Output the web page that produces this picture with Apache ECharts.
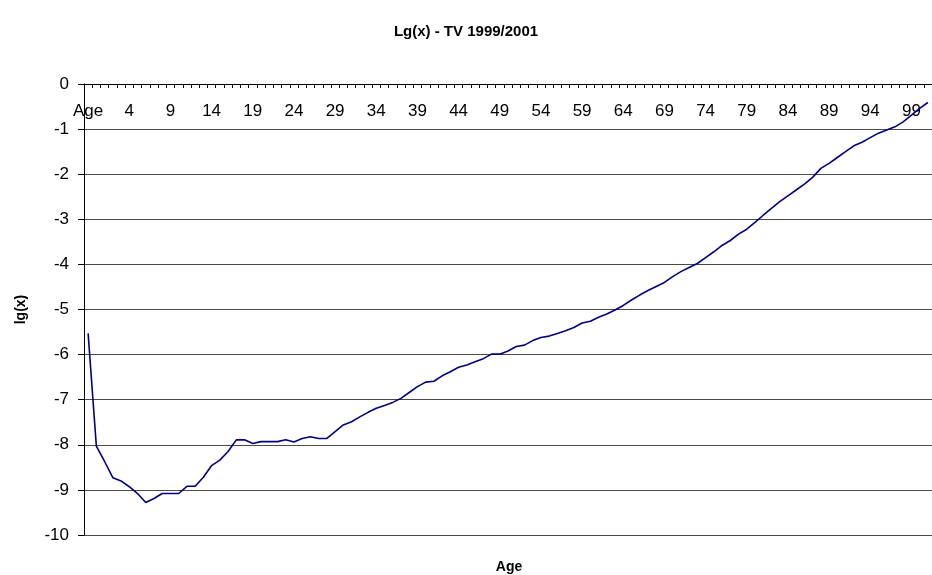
<!DOCTYPE html>
<html>
<head>
<meta charset="utf-8">
<title>Lg(x) - TV 1999/2001</title>
<script src="https://cdn.jsdelivr.net/npm/echarts@6/dist/echarts.min.js"></script>
<style>
  html, body { margin: 0; padding: 0; background: #fff; }
  #main { width: 932px; height: 575px; }
</style>
</head>
<body>
<div id="main"></div>
<script>
  // categories: the header cell "Age" followed by the ages 0..101
  var firstAge = 0;
  var lastAge = 101;
  var ages = ['Age'];
  for (var a = firstAge; a <= lastAge; a++) {
    ages.push(String(a));
  }

  // lg(x) values, one per category
  var lgx = [
    -5.53, -8.03, -8.37, -8.73, -8.80, -8.93, -9.08, -9.28, -9.19, -9.08,
    -9.08, -9.08, -8.92, -8.92, -8.72, -8.46, -8.34, -8.15, -7.89, -7.89,
    -7.97, -7.93, -7.93, -7.93, -7.89, -7.94, -7.86, -7.82, -7.86, -7.86,
    -7.71, -7.56, -7.49, -7.38, -7.28, -7.19, -7.13, -7.06, -6.97, -6.84,
    -6.71, -6.61, -6.59, -6.47, -6.38, -6.28, -6.23, -6.16, -6.09, -5.99,
    -5.99, -5.92, -5.82, -5.79, -5.69, -5.62, -5.59, -5.53, -5.47, -5.40,
    -5.30, -5.26, -5.17, -5.10, -5.01, -4.91, -4.79, -4.68, -4.58, -4.49,
    -4.40, -4.27, -4.16, -4.07, -3.98, -3.85, -3.72, -3.58, -3.47, -3.33,
    -3.22, -3.07, -2.91, -2.76, -2.61, -2.48, -2.35, -2.22, -2.07, -1.87,
    -1.76, -1.63, -1.50, -1.37, -1.29, -1.19, -1.09, -1.02, -0.95, -0.84,
    -0.69, -0.54, -0.41
  ];

  var font = '"Liberation Sans", Arial, sans-serif';

  var myChart = echarts.init(document.getElementById('main'));

  var option = {
    animation: false,
    title: [{
      text: 'Lg(x) - TV 1999/2001',
      left: 'center',
      top: 19,
      textStyle: { fontFamily: font, fontSize: 15, fontWeight: 'bold', color: '#000' }
    }, {
      // x axis name sits under the plot, the axis itself is drawn at the top
      text: 'Age',
      left: 509,
      textAlign: 'center',
      top: 560,
      padding: 0,
      textStyle: { fontFamily: font, fontSize: 14, fontWeight: 'bold', color: '#000' }
    }],
    grid: {
      left: 84,
      top: 84,
      right: -2,
      bottom: 40
    },
    xAxis: {
      type: 'category',
      position: 'top',
      data: ages,
      boundaryGap: true,
      axisLine: { lineStyle: { color: '#000', width: 1 } },
      axisTick: { show: true, inside: true, length: 4, interval: 0, lineStyle: { color: '#000' } },
      axisLabel: {
        inside: true,
        interval: 4,
        margin: 19,
        fontFamily: font,
        fontSize: 17,
        color: '#000'
      },
      splitLine: { show: false }
    },
    yAxis: {
      type: 'value',
      min: -10,
      max: 0,
      interval: 1,
      name: 'lg(x)',
      nameLocation: 'middle',
      nameRotate: 90,
      nameGap: 56,
      nameTextStyle: { fontFamily: font, fontSize: 14, fontWeight: 'bold', color: '#000' },
      axisLine: { show: true, lineStyle: { color: '#000', width: 1 } },
      axisTick: { show: true, length: 6, lineStyle: { color: '#000' } },
      axisLabel: { margin: 15, fontFamily: font, fontSize: 17, color: '#000' },
      splitLine: { show: true, lineStyle: { color: '#4a4a4a', width: 1 } }
    },
    series: [{
      name: 'lg(x)',
      type: 'line',
      data: lgx,
      showSymbol: false,
      symbol: 'none',
      lineStyle: { color: '#000080', width: 1.6 },
      clip: true
    }]
  };

  myChart.setOption(option);
</script>
</body>
</html>
